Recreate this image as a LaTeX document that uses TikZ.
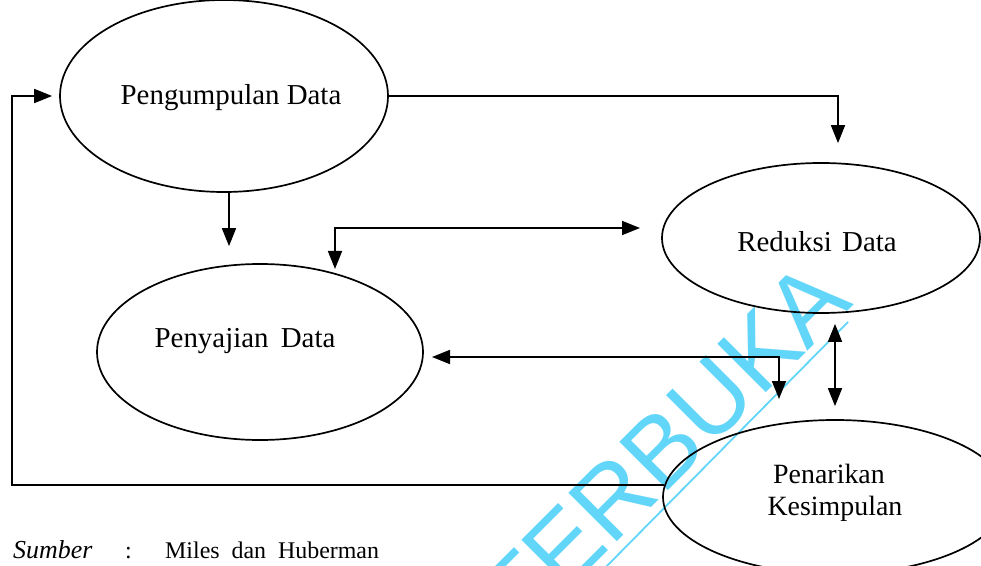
\documentclass[tikz,border=0pt]{standalone}
\usepackage{fontspec}
\setmainfont{Liberation Serif}
\newfontfamily\wmfont{Liberation Sans}
\usetikzlibrary{arrows.meta,shapes.geometric}
\definecolor{wm}{RGB}{98,214,248}
\begin{document}
\begin{tikzpicture}[x=1bp,y=-1bp,
  ell/.style={draw, ellipse, line width=1.7bp, inner sep=0pt},
  lbl/.style={font=\fontsize{29}{34}\selectfont, anchor=base, inner sep=0pt},
  src/.style={font=\fontsize{24}{26}\selectfont, anchor=base west, inner sep=0pt},
  con/.style={line width=1.7bp},
  tip/.style={-{Triangle[length=18bp,width=14bp]}},
  dtip/.style={{Triangle[length=18bp,width=14bp]}-{Triangle[length=18bp,width=14bp]}}
]
\useasboundingbox (0,0) rectangle (981,566);
\fill[white] (0,0) rectangle (981,566);
\clip (0,0) rectangle (981,566);
% watermark
\node[rotate=45, text=wm, font=\wmfont\fontsize{100}{100}\selectfont, inner sep=0pt] (wmark) at (664,447) {TERBUKA};
\draw[wm, line width=1.8bp] (598,575) -- (848,322);
% ellipses
\node[ell, minimum width=328bp, minimum height=192bp] (peng) at (224,96) {};
\node[ell, minimum width=318bp, minimum height=150bp] (red) at (821,238) {};
\node[ell, minimum width=326bp, minimum height=176bp] (peny) at (260,352) {};
\node[ell, minimum width=344bp, minimum height=154bp] (kes) at (835,497) {};
% labels
\node[lbl] (tpeng) at (231,105) {Pengumpulan Data};
\node[lbl] (tred) at (817,252) {Reduksi\hspace{3bp} Data};
\node[lbl] (tpeny) at (245,347) {Penyajian\hspace{5bp} Data};
\node[lbl, font=\fontsize{28}{32}\selectfont] (tkes1) at (829,483) {Penarikan};
\node[lbl, font=\fontsize{28}{32}\selectfont] (tkes2) at (835,515) {Kesimpulan};
% source
\node[src, font=\fontsize{26}{28}\selectfont] (s1) at (13,558) {\textit{Sumber}};
\node[src] (s2) at (125,558) {:};
\node[src] (s3) at (165,558) {Miles\hspace{6bp} dan\hspace{6bp} Huberman};
% coordinates
\coordinate (lx) at (12,0);
\coordinate (a2) at (838,0);
\coordinate (a3) at (229,0);
\coordinate (a4) at (335,269);
\coordinate (b4) at (640,228);
\coordinate (a5) at (432,357);
\coordinate (b5) at (779,399);
\coordinate (a6) at (835,0);
% connectors
\draw[con,tip,shorten >=7bp] (kes.176) -- (kes.176 -| lx) |- (peng.west);
\draw[con,tip,shorten >=19bp] (peng.east) -| (red.north -| a2);
\draw[con,tip,shorten >=17bp] (peng.south -| a3) -- (peny.north -| a3);
\draw[con,dtip] (a4) |- (b4);
\draw[con,dtip] (a5) -| (b5);
\draw[con,dtip,shorten <=10bp,shorten >=13bp] (red.south -| a6) -- (kes.north -| a6);
\end{tikzpicture}
\end{document}
